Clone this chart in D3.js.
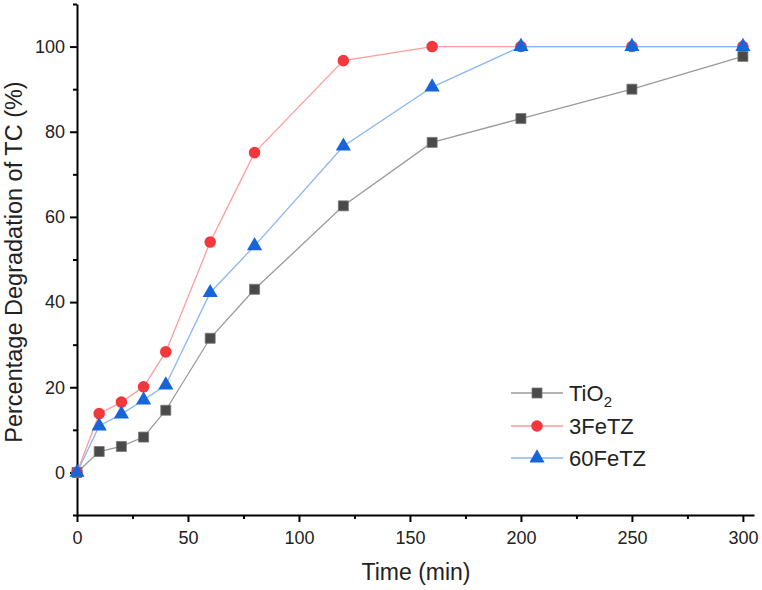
<!DOCTYPE html>
<html><head><meta charset="utf-8">
<script src="https://cdn.jsdelivr.net/npm/d3@7"></script>
<style>body{margin:0;background:#fff}svg{display:block}text{font-family:"Liberation Sans",Arial,sans-serif;fill:#222}</style>
</head><body><svg id="c" width="762" height="590"></svg>
<script>
const times = [0,10,20,30,40,60,80,120,160,200,250,300];
const tio2 = [0,4.9,6.1,8.3,14.6,31.5,43.0,62.6,77.5,83.1,90.0,97.7];
const fe3 = [0,13.8,16.5,20.1,28.3,54.1,75.1,96.7,100,100,100,100];
const fe60 = [0,10.9,13.7,17.0,20.5,42.2,53.2,76.6,90.5,100,100,100];
const xTicks = [0,50,100,150,200,250,300];
const yTicks = [0,20,40,60,80,100];
const seriesNames = ["TiO2","3FeTZ","60FeTZ"];

const svg = d3.select("#c");
const x = d3.scaleLinear().domain([0,305]).range([77,754]);
const y = d3.scaleLinear().domain([-10,110]).range([515,4]);

// axes
svg.append("g").attr("transform","translate(0,515)")
  .call(d3.axisBottom(x).tickValues(xTicks).tickSize(7).tickPadding(9).tickSizeOuter(0));
svg.append("g").attr("transform","translate(0,515)")
  .call(d3.axisBottom(x).tickValues([25,75,125,175,225,275]).tickSize(4).tickFormat("").tickSizeOuter(0))
  .select(".domain").remove();
svg.append("g").attr("transform","translate(77,0)")
  .call(d3.axisLeft(y).tickValues(yTicks).tickSize(7).tickPadding(5).tickSizeOuter(0));
svg.append("g").attr("transform","translate(77,0)")
  .call(d3.axisLeft(y).tickValues([-10,10,30,50,70,90,110]).tickSize(4).tickFormat("").tickSizeOuter(0))
  .select(".domain").remove();
svg.selectAll(".tick line").attr("stroke","#000").attr("stroke-width",2);
svg.selectAll(".domain").attr("stroke","#000").attr("stroke-width",2);
svg.selectAll(".tick text").style("font-size","18px").style("font-family","'Liberation Sans',Arial,sans-serif").attr("fill","#222");

svg.append("text").attr("x",416).attr("y",580).attr("text-anchor","middle")
  .style("font-size","23px").text("Time (min)");
svg.append("text").attr("transform","translate(22,262) rotate(-90)").attr("text-anchor","middle")
  .style("font-size","23.5px").text("Percentage Degradation of TC (%)");

const series = [
  {name:seriesNames[0], vals:tio2, line:"#9a9a9a", fill:"#4a4a4a", shape:d3.symbolSquare, size:100},
  {name:seriesNames[1], vals:fe3, line:"#ff9d9d", fill:"#f2383d", shape:d3.symbolCircle, size:105},
  {name:seriesNames[2], vals:fe60, line:"#8ab6f2", fill:"#1765d8", shape:d3.symbolTriangle, size:100}
];
const line = d3.line().x((d,i)=>x(times[i])).y(d=>y(d));
series.forEach(s=>{
  svg.append("path").datum(s.vals).attr("d",line).attr("fill","none").attr("stroke",s.line).attr("stroke-width",1.3);
});
series.forEach(s=>{
  svg.append("g").selectAll("path").data(s.vals).join("path")
    .attr("transform",(d,i)=>`translate(${x(times[i])},${y(d)})`)
    .attr("d",d3.symbol().type(s.shape).size(s.size))
    .attr("fill",s.fill).attr("stroke",s.shape===d3.symbolSquare?"#777":"none").attr("stroke-width",0.8);
});

// legend
const ly = [393,426,458];
series.forEach((s,i)=>{
  const g = svg.append("g").attr("transform",`translate(0,${ly[i]})`);
  g.append("line").attr("x1",511).attr("x2",563).attr("y1",0).attr("y2",0).attr("stroke",s.line).attr("stroke-width",1.3);
  g.append("path").attr("transform","translate(537,0)").attr("d",d3.symbol().type(s.shape).size(s.size))
    .attr("fill",s.fill).attr("stroke",s.shape===d3.symbolSquare?"#777":"none").attr("stroke-width",0.8);
  const t = g.append("text").attr("x",569).attr("y",8).style("font-size","22px");
  if(i===0){ t.text("TiO"); t.append("tspan").attr("dy",6).style("font-size","15px").text("2"); }
  else t.text(s.name);
});
</script></body></html>
